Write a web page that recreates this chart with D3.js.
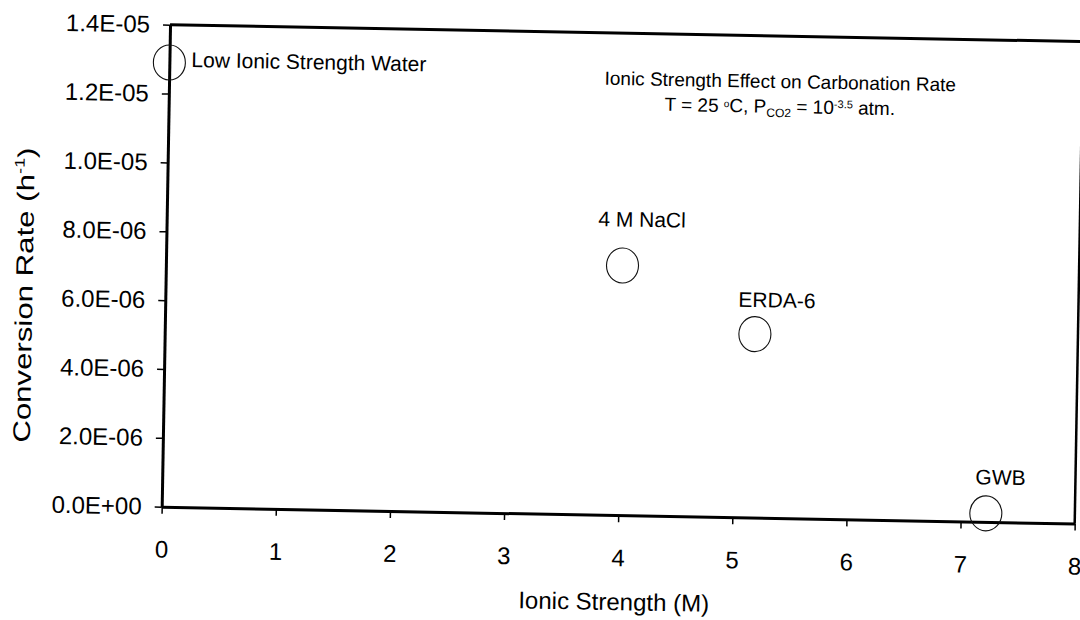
<!DOCTYPE html>
<html>
<head>
<meta charset="utf-8">
<script src="https://cdn.jsdelivr.net/npm/d3@7"></script>
<style>
  body { margin: 0; background: #fff; }
  svg { display: block; }
  text { font-family: "Liberation Sans", Arial, sans-serif; fill: #000; }
</style>
</head>
<body>
<svg id="chart" width="1080" height="620"></svg>
<script>
// Carbonation rate measured in four solutions of increasing ionic strength
const samples = ["Low Ionic Strength Water", "4 M NaCl", "ERDA-6", "GWB"];
const ionicStrength = [0.0, 4.0, 5.17, 7.22];          // M
const conversionRate = [1.29e-5, 7.25e-6, 5.33e-6, 2.5e-7]; // h^-1

const xTicks = [0, 1, 2, 3, 4, 5, 6, 7, 8];
const yTicks = [0, 2e-6, 4e-6, 6e-6, 8e-6, 1.0e-5, 1.2e-5, 1.4e-5];
const yTickLabels = ["0.0E+00", "2.0E-06", "4.0E-06", "6.0E-06", "8.0E-06", "1.0E-05", "1.2E-05", "1.4E-05"];

const W = 913, H = 482;

const svg = d3.select("#chart");

// the whole figure sits on a slightly tilted page
const plot = svg.append("g")
  .attr("transform", "matrix(1, 0.0185, -0.0173, 1, 161.7, 506.7)");

const x = d3.scaleLinear().domain([0, 8]).range([0, W]);
const y = d3.scaleLinear().domain([0, 1.4e-5]).range([0, -H]);

// frame: top and right borders
plot.append("line")
  .attr("x1", 0).attr("x2", W).attr("y1", y(1.4e-5)).attr("y2", y(1.4e-5))
  .attr("stroke", "#000").attr("stroke-width", 3);
plot.append("line")
  .attr("x1", W).attr("x2", W).attr("y1", y(1.4e-5)).attr("y2", 0)
  .attr("stroke", "#000").attr("stroke-width", 2.5);

// x axis
const xAxis = plot.append("g")
  .call(d3.axisBottom(x).tickValues(xTicks).tickFormat(d3.format("d"))
    .tickSize(7).tickSizeOuter(0).tickPadding(27));
xAxis.select(".domain").attr("stroke-width", 3);
xAxis.selectAll(".tick line").attr("stroke-width", 1.5);
xAxis.selectAll(".tick text").attr("font-size", 24).attr("font-family", null);

// y axis
const yAxis = plot.append("g")
  .call(d3.axisLeft(y).tickValues(yTicks)
    .tickFormat((d, i) => yTickLabels[i])
    .tickSize(7).tickSizeOuter(0).tickPadding(13));
yAxis.select(".domain").attr("stroke-width", 3);
yAxis.selectAll(".tick line").attr("stroke-width", 1.5);
yAxis.selectAll(".tick text").attr("font-size", 24).attr("font-family", null);

// axis titles
plot.append("text")
  .attr("x", W / 2 - 3).attr("y", 95)
  .attr("text-anchor", "middle").attr("font-size", 24)
  .text("Ionic Strength (M)");

// the vertical title is set wide along its run
const yTitle = plot.append("text")
  .attr("transform", "translate(-133,-209) rotate(-90) scale(1.3,1)")
  .attr("text-anchor", "middle").attr("font-size", 24);
yTitle.append("tspan").text("Conversion Rate (h");
yTitle.append("tspan").attr("font-size", 14).attr("dy", -10).text("-1");
yTitle.append("tspan").attr("dy", 10).text(")");

// chart note
plot.append("text")
  .attr("x", 611).attr("y", -430)
  .attr("text-anchor", "middle").attr("font-size", 19)
  .text("Ionic Strength Effect on Carbonation Rate");

const note = plot.append("text")
  .attr("x", 611).attr("y", -405)
  .attr("text-anchor", "middle").attr("font-size", 19);
note.append("tspan").text("T = 25 ");
note.append("tspan").attr("font-size", 10).attr("dy", -5).text("o");
note.append("tspan").attr("dy", 5).text("C, P");
note.append("tspan").attr("font-size", 12).attr("dy", 4).text("CO2");
note.append("tspan").attr("dy", -4).text(" = 10");
note.append("tspan").attr("font-size", 11).attr("dy", -6).text("-3.5");
note.append("tspan").attr("dy", 6).text(" atm.");

// data points: open circles
const points = samples.map((s, i) => ({ name: s, xv: ionicStrength[i], yv: conversionRate[i] }));

plot.selectAll("ellipse.pt")
  .data(points)
  .join("ellipse")
  .attr("class", "pt")
  .attr("cx", d => x(d.xv))
  .attr("cy", d => y(d.yv))
  .attr("rx", 16)
  .attr("ry", 17.5)
  .attr("fill", "none")
  .attr("stroke", "#111")
  .attr("stroke-width", 1.1);

// point labels, placed beside/above each circle
const labelPlacement = [
  { dx: 22, dy: 4 },
  { dx: -25, dy: -39 },
  { dx: -17, dy: -27 },
  { dx: -11, dy: -29 }
];

plot.selectAll("text.pt-label")
  .data(points)
  .join("text")
  .attr("class", "pt-label")
  .attr("x", (d, i) => x(d.xv) + labelPlacement[i].dx)
  .attr("y", (d, i) => y(d.yv) + labelPlacement[i].dy)
  .attr("font-size", 21)
  .text(d => d.name);
</script>
</body>
</html>
